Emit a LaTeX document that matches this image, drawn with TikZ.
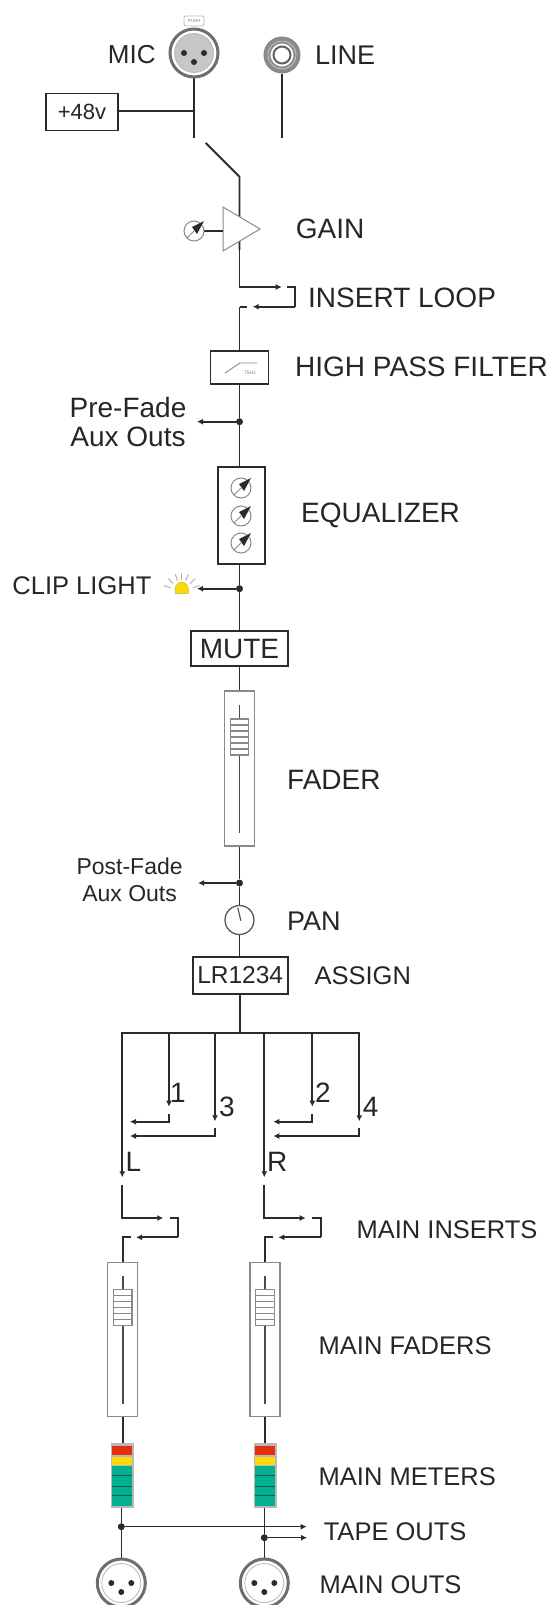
\documentclass[tikz,border=0pt]{standalone}
\usepackage{fontspec}
\setmainfont{Liberation Sans}
\usetikzlibrary{arrows.meta}
\definecolor{ink}{HTML}{2B2B2B}
\definecolor{edge}{HTML}{8A8A8A}
\definecolor{txt}{HTML}{262626}
\definecolor{mred}{HTML}{E0300F}
\definecolor{myel}{HTML}{FFD90A}
\definecolor{mgrn}{HTML}{00B08F}
\tikzset{
  wire/.style={draw=ink,line width=1.9pt},
  tip/.style={wire,-{Latex[length=6pt,width=6pt]}},
  jdot/.style={circle,fill=ink,inner sep=0pt,minimum size=7pt},
  lbl/.style={font=\fontsize{25.5}{25.5}\selectfont,text=txt,anchor=west,inner sep=0pt},
  big/.style={lbl,font=\fontsize{28}{28}\selectfont},
  boxed/.style={draw=ink,line width=1.7pt,fill=white,inner sep=0pt,font=\fontsize{28}{28}\selectfont,text=txt},
  faderbox/.style={draw=edge,line width=1.1pt,fill=white,inner sep=0pt,minimum width=30pt,minimum height=154pt},
  pics/knob/.style={code={
    \draw[draw=edge,line width=1pt,fill=white] (0,0) circle (10);
    \draw[draw=edge,line width=1pt] (-7,7) -- (0,0);
    \fill[ink] (10,-10) -- (-2,-4) -- (3,3) -- cycle;
  }},
  pics/xlr/.style={code={
    \draw[draw=edge!80!black,line width=3pt,fill=white] (0,0) circle (24);
    \draw[draw=edge!60,line width=.8pt,fill=#1] (0,0) circle (19.5);
    \fill[ink] (-10,0) circle (3) (10,0) circle (3) (0,9) circle (3);
  }},
  pics/slider/.style={code={
    \draw[draw=ink!85,line width=1.7pt] (0,-64) -- (0,64);
    \draw[draw=edge,line width=1.1pt,fill=white] (-9.3,-50) rectangle (9.3,-14);
    \foreach \yy in {-44,-38,-32,-26,-20}
      \draw[draw=edge,line width=1.1pt] (-9.3,\yy) -- (9.3,\yy);
  }},
  pics/meter/.style={code={
    \fill[gray!55] (-11.7,0) rectangle (11.7,64.4);
    \fill[mred] (-10,2.7) rectangle (10,12);
    \fill[myel] (-10,13.4) rectangle (10,22);
    \fill[mgrn] (-10,22.7) rectangle (10,62.7);
    \draw[draw=ink!70!mgrn,line width=.7pt] (-10,32) -- (10,32) (-10,42.7) -- (10,42.7) (-10,52) -- (10,52);
  }}
}
\begin{document}
\begin{tikzpicture}[x=1pt,y=-1pt]
\useasboundingbox (0,0) rectangle (550,1605);
% coordinates
\coordinate (micB) at (194,78);
\coordinate (micE) at (194,138);
\coordinate (micJ) at (194,110.7);
\coordinate (lineB) at (282,74);
\coordinate (lineE) at (282,138);
\coordinate (swA) at (205.7,143);
\coordinate (swB) at (239.5,176.7);
\coordinate (ampIn) at (239.5,250);
\coordinate (insA) at (281.7,287);
\coordinate (insB) at (287,287);
\coordinate (insC) at (295,306.7);
\coordinate (insD) at (252.7,306.7);
\coordinate (insE) at (246.7,306.7);
\coordinate (insF) at (239.5,306.7);
\coordinate (gainK) at (194,231);
\coordinate (gainT) at (223,231);
% wires top
\draw[wire] (micB) -- (micE);
\draw[wire] (lineB) -- (lineE);
\draw[wire] (swA) -- (swB) -- (ampIn);
\draw[tip] (ampIn) |- (insA);
\draw[wire] (insB) -| (insC);
\draw[tip] (insC) -- (insD);
\draw[wire] (insE) -- (insF);
% +48v
\node[boxed,minimum width=72pt,minimum height=37pt,font=\fontsize{22}{22}\selectfont] (phantom) at (82,112) {+48v};
\draw[wire] (phantom.east |- micJ) -- (micJ);
% connectors
\pic at (194,53) {xlr={black!22}};
\node[draw=edge!60,line width=.7pt,fill=white,rounded corners=2pt,minimum width=20pt,minimum height=10pt,inner sep=0pt,font=\fontsize{4.5}{5}\selectfont,text=gray] (push) at (194,21) {PUSH};
\draw[draw=edge,line width=7pt] (282,55) circle (15);
\draw[draw=edge!50,line width=.8pt] (282,55) circle (14);
\draw[draw=edge!70!black,line width=2pt,fill=white] (282,55) circle (8.5);
% gain
\draw[draw=edge,line width=1pt,fill=white] (223,207) -- (260,229) -- (223,251) -- cycle;
\draw[wire] (gainK) -- (gainT);
\pic at (gainK) {knob};
% HPF
\node[boxed,minimum width=58pt,minimum height=33pt] (hpf) at (239.5,367.5) {};
\draw[wire] (insF) -- (hpf.north);
\draw[draw=edge,line width=.9pt] (225,373) -- (240,363) -- (257,363);
\node[font=\fontsize{5}{5}\selectfont,text=gray,inner sep=0pt] (hz) at (250,373) {75Hz};
% EQ
\node[boxed,minimum width=47pt,minimum height=97pt] (eq) at (241.5,515.5) {};
\node[jdot] (pre) at (239.5,421.7) {};
\coordinate (preE) at (197,421.7);
\draw[wire] (hpf.south) -- (pre) -- (pre |- eq.north);
\draw[tip] (pre) -- (preE);
\pic at (241,488) {knob};
\pic at (241,516) {knob};
\pic at (241,543) {knob};
% clip
\node[jdot] (clip) at (239.5,588.7) {};
\coordinate (clipE) at (197,588.7);
\draw[tip] (clip) -- (clipE);
\node[boxed,minimum width=97pt,minimum height=35pt] (mute) at (239.5,648.5) {MUTE};
\draw[wire] (clip |- eq.south) -- (clip) -- (mute.north);
% lamp
\fill[myel,draw=myel!80!black,line width=.4pt] (175,593.3) -- (175,590) arc[start angle=180,end angle=0,x radius=6.7,y radius=-8] -- (188.3,593.3) -- cycle;
\foreach \a in {20,45,70,90,110,135,160}
  \draw[draw=edge!70,line width=.9pt] ({181.7+12*cos(\a)},{592-12*sin(\a)}) -- ({181.7+19*cos(\a)},{592-19*sin(\a)});
% fader
\node[faderbox,minimum height=155pt] (fad) at (239.5,768.5) {};
\draw[wire] (mute.south) -- (fad.north);
\pic at (239.5,769) {slider};
\node[jdot] (post) at (239.5,883) {};
\coordinate (postE) at (198,883);
\draw[tip] (post) -- (postE);
\node[draw=ink!80,line width=1.3pt,fill=white,circle,minimum size=29pt,inner sep=0pt] (pan) at (239.5,920) {};
\draw[draw=ink!80,line width=1.2pt] (240.9,920.7) -- (237.7,907.7);
\node[boxed,minimum width=95pt,minimum height=37pt,font=\fontsize{24.5}{24.5}\selectfont] (assign) at (240.2,975.3) {LR1234};
\draw[wire] (fad.south) -- (post) -- (pan.north);
\draw[wire] (pan.south) -- (pan.south |- assign.north);
% bus
\coordinate (trunk) at (240.2,1032.7);
\draw[wire] (assign.south) -- (trunk);
\coordinate (busL) at (122.3,1032.7);
\coordinate (busR) at (359.3,1032.7);
\draw[wire,line cap=rect] (busL) -- (busR);
\coordinate (L1) at (122.3,1177.3);
\coordinate (d1) at (169,1106.7);
\coordinate (d3) at (215,1121.3);
\coordinate (R1) at (264.3,1177.3);
\coordinate (d2) at (312.3,1106.7);
\coordinate (d4) at (359.3,1121.3);
\foreach \p in {L1,d1,d3,R1,d2,d4} \draw[tip] (\p |- busL) -- (\p);
% channel returns
\coordinate (r1) at (169,1114.3); \coordinate (r1e) at (130,1121.7);
\coordinate (r3) at (215,1128.3); \coordinate (r3e) at (130,1136);
\coordinate (r2) at (312.3,1114.3); \coordinate (r2e) at (273.3,1121.7);
\coordinate (r4) at (359.3,1128.3); \coordinate (r4e) at (273.3,1136);
\draw[tip] (r1) |- (r1e);
\draw[tip] (r3) |- (r3e);
\draw[tip] (r2) |- (r2e);
\draw[tip] (r4) |- (r4e);
% main faders
\node[faderbox] (fl) at (122.7,1339.7) {};
\node[faderbox] (fr) at (265,1339.7) {};
\pic at (fl) {slider};
\pic at (fr) {slider};
% main inserts L
\coordinate (la) at (122.3,1185); \coordinate (lb) at (163.3,1218);
\coordinate (lc) at (170,1218); \coordinate (ld) at (178.3,1237.3);
\coordinate (le) at (136,1237.3); \coordinate (lf) at (130.7,1237.3);
\draw[tip] (la) |- (lb);
\draw[wire] (lc) -| (ld);
\draw[tip] (ld) -- (le);
\draw[wire] (lf) -- (fl.north |- lf) -- (fl.north);
% main inserts R
\coordinate (ra) at (264.3,1185); \coordinate (rb) at (305.7,1218);
\coordinate (rc) at (312.3,1218); \coordinate (rd) at (320.7,1237.3);
\coordinate (re) at (278.3,1237.3); \coordinate (rf) at (272.7,1237.3);
\draw[tip] (ra) |- (rb);
\draw[wire] (rc) -| (rd);
\draw[tip] (rd) -- (re);
\draw[wire] (rf) -- (fr.north |- rf) -- (fr.north);
% meters
\coordinate (ml) at (122.3,1443.3);
\coordinate (mr) at (265.3,1443.3);
\draw[wire] (fl.south) -- (fl.south |- ml);
\draw[wire] (fr.south) -- (fr.south |- mr);
\pic at (ml) {meter};
\pic at (mr) {meter};
% outs
\node[jdot] (tl) at (121.3,1526.7) {};
\node[jdot] (tr) at (264.3,1537.7) {};
\coordinate (tlE) at (306.7,1526.7);
\coordinate (trE) at (307,1537.7);
\coordinate (xl) at (121.3,1583);
\coordinate (xr) at (264.3,1583);
\draw[wire,line width=1.5pt] (121.3,1507.7) -- (tl) -- (121.3,1560);
\draw[wire,line width=1.5pt] (264.3,1507.7) -- (tr) -- (264.3,1560);
\draw[tip,line width=1.5pt] (tl) -- (tlE);
\draw[tip,line width=1.5pt] (tr) -- (trE);
\pic at (xl) {xlr=white};
\pic at (xr) {xlr=white};
% labels
\node[lbl,anchor=center,font=\fontsize{26}{26}\selectfont] (tmic) at (131.7,55) {MIC};
\node[lbl,font=\fontsize{27}{27}\selectfont] (tline) at (315,55) {LINE};
\node[big] (tgain) at (295.7,229) {GAIN};
\node[big] (tins) at (308,297.7) {INSERT LOOP};
\node[big] (thpf) at (295,366.7) {HIGH PASS FILTER};
\node[lbl,anchor=center,align=center,font=\fontsize{28}{29}\selectfont] (tpre) at (128,422) {Pre-Fade\\Aux Outs};
\node[big] (teq) at (301,515) {EQUALIZER};
\node[lbl] (tclip) at (12.3,586) {CLIP LIGHT};
\node[big] (tfad) at (287,780) {FADER};
\node[lbl,anchor=center,align=center,font=\fontsize{23}{27}\selectfont] (tpost) at (129.6,880) {Post-Fade\\Aux Outs};
\node[lbl,font=\fontsize{27}{27}\selectfont] (tpan) at (287,920.8) {PAN};
\node[lbl] (tass) at (314.4,976) {ASSIGN};
\node[big,anchor=center] (t1) at (178,1092.7) {1};
\node[big,anchor=center] (t3) at (227,1106.7) {3};
\node[big,anchor=center] (t2) at (323,1092.7) {2};
\node[big,anchor=center] (t4) at (370.7,1107.3) {4};
\node[big,anchor=center] (tL) at (133.3,1162) {L};
\node[big,anchor=center] (tR) at (277.3,1162) {R};
\node[lbl] (tmi) at (356.4,1230) {MAIN INSERTS};
\node[lbl] (tmf) at (318.5,1346) {MAIN FADERS};
\node[lbl] (tmm) at (318.5,1477) {MAIN METERS};
\node[lbl] (tto) at (323.6,1532) {TAPE OUTS};
\node[lbl] (tmo) at (319.5,1585) {MAIN OUTS};
\end{tikzpicture}
\end{document}
